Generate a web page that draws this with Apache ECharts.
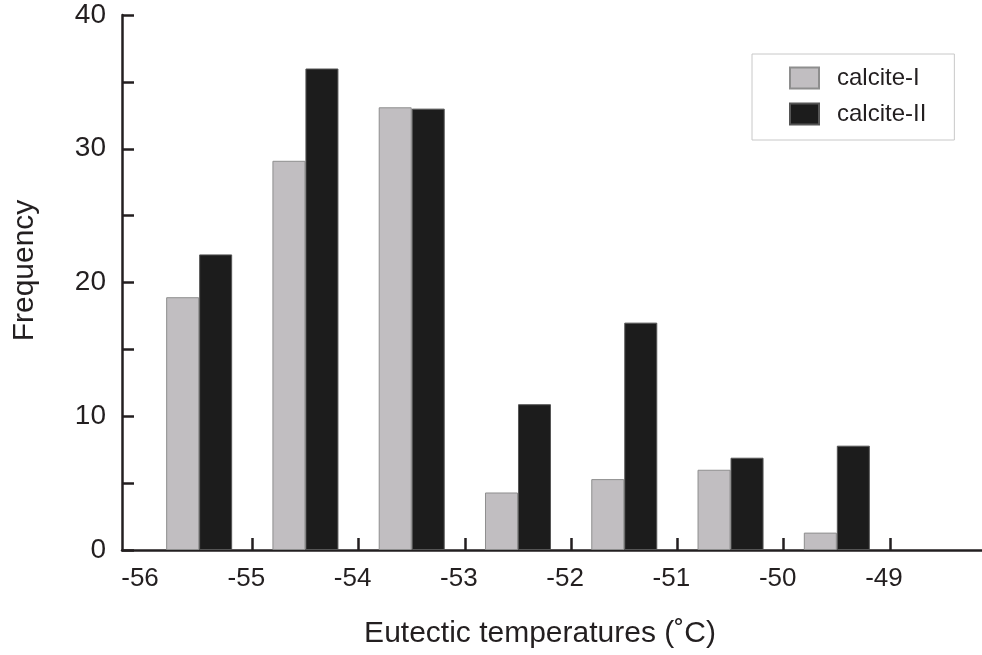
<!DOCTYPE html>
<html>
<head>
<meta charset="utf-8">
<script src="https://cdn.jsdelivr.net/npm/echarts@6/dist/echarts.min.js"></script>
<style>
  html, body { margin: 0; padding: 0; background: #ffffff; }
  #chart { width: 982px; height: 655px; }
</style>
</head>
<body>
<div id="chart"></div>
<script>
// Histogram bin centres (°C) and frequencies for each calcite generation
const tempBins = [-55.5, -54.5, -53.5, -52.5, -51.5, -50.5, -49.5];
const calciteI = [18.9, 29.1, 33.1, 4.3, 5.3, 6.0, 1.3];
const calciteII = [22.1, 36.0, 33.0, 10.9, 17.0, 6.9, 7.8];

// Axis ticks and labels
const xLabelValues = [-56, -55, -54, -53, -52, -51, -50, -49];
const xTickValues = [-55, -54, -53, -52, -51, -50, -49];
const yLabelValues = [0, 10, 20, 30, 40];

const seriesNames = ['calcite-I', 'calcite-II'];

const ink = '#231f20';
const font = '"Liberation Sans", Arial, Helvetica, sans-serif';

const pairs = (vals) => tempBins.map((t, i) => [t, vals[i]]);

const chart = echarts.init(document.getElementById('chart'), null, { renderer: 'canvas' });

chart.setOption({
  backgroundColor: '#ffffff',
  animation: false,
  grid: { left: 122, right: 0, top: 15, bottom: 105, containLabel: false },
  legend: {
    orient: 'vertical',
    left: 752,
    top: 54,
    padding: [12, 28, 14, 37],
    itemWidth: 29,
    itemHeight: 21,
    itemGap: 12,
    borderColor: '#c8c8c8',
    borderWidth: 1,
    icon: 'rect',
    data: seriesNames,
    textStyle: { fontFamily: font, fontSize: 24, color: ink, padding: [0, 0, 0, 13] }
  },
  xAxis: {
    type: 'value',
    min: -56.226,
    max: -48.134,
    name: 'Eutectic temperatures (˚C)',
    nameLocation: 'middle',
    nameGap: 69,
    nameTextStyle: { fontFamily: font, fontSize: 30, color: ink, padding: [0, 24, 0, 0] },
    axisLine: { show: true, onZero: false, lineStyle: { color: ink, width: 2.5 } },
    axisTick: { show: true, inside: true, length: 12, customValues: xTickValues, lineStyle: { color: ink, width: 2.5 } },
    axisLabel: {
      customValues: xLabelValues,
      fontFamily: font, fontSize: 26, color: ink, margin: 16,
      padding: [0, 12, 0, 0]
    },
    splitLine: { show: false }
  },
  yAxis: {
    type: 'value',
    min: 0,
    max: 40,
    interval: 5,
    name: 'Frequency',
    nameLocation: 'middle',
    nameGap: 82,
    nameTextStyle: { fontFamily: font, fontSize: 30, color: ink, padding: [0, 0, 0, 24] },
    axisLine: { show: true, lineStyle: { color: ink, width: 2.5 } },
    axisTick: { show: true, inside: true, length: 12, lineStyle: { color: ink, width: 2.5 } },
    axisLabel: {
      customValues: yLabelValues,
      fontFamily: font, fontSize: 28, color: ink, margin: 16
    },
    splitLine: { show: false }
  },
  series: [
    {
      name: seriesNames[0],
      type: 'bar',
      data: pairs(calciteI),
      barWidth: 33,
      barGap: '0%',
      itemStyle: { color: '#c1bec1', borderColor: '#8e8e8e', borderWidth: 1 }
    },
    {
      name: seriesNames[1],
      type: 'bar',
      data: pairs(calciteII),
      barWidth: 33,
      barGap: '0%',
      itemStyle: { color: '#1c1c1c', borderColor: '#555555', borderWidth: 1 }
    }
  ]
});
</script>
</body>
</html>
